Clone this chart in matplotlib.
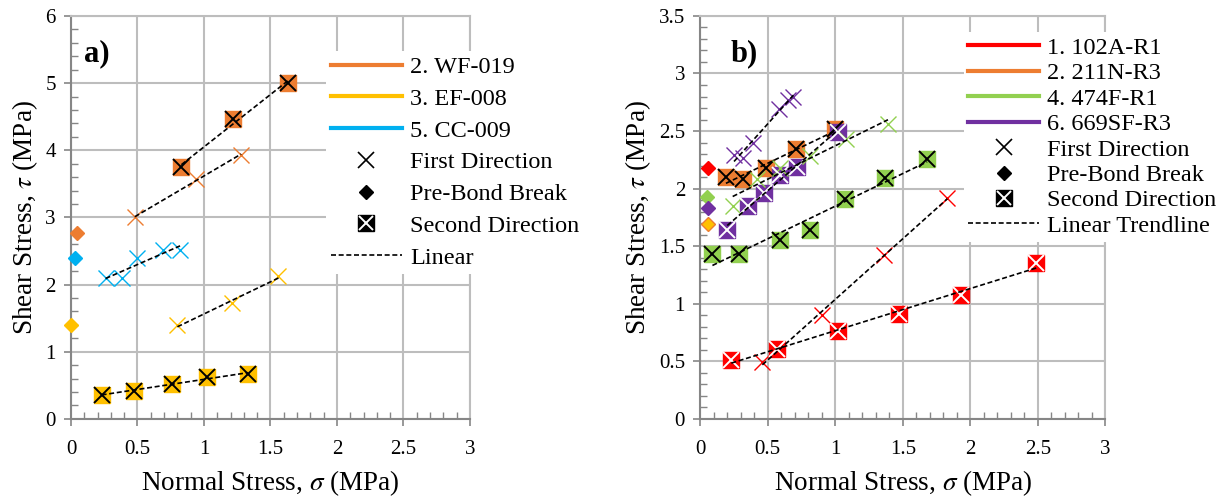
import numpy as np
import matplotlib
matplotlib.use('Agg')
import matplotlib.pyplot as plt
from matplotlib.lines import Line2D
from matplotlib.ticker import MultipleLocator, FormatStrFormatter

plt.rcParams['font.family'] = ['Liberation Serif', 'DejaVu Serif']
plt.rcParams['mathtext.fontset'] = 'stix'

# ---- panel a) data ----
a_wf_pre = (0.045, 2.76)
a_wf_first_x = [0.48, 0.94, 1.28]
a_wf_first_y = [3.00, 3.57, 3.93]
a_wf_second_x = [0.83, 1.22, 1.63]
a_wf_second_y = [3.75, 4.46, 5.00]

a_ef_pre = (0.0, 1.39)
a_ef_first_x = [0.80, 1.21, 1.56]
a_ef_first_y = [1.39, 1.72, 2.12]
a_ef_second_x = [0.23, 0.47, 0.76, 1.02, 1.33]
a_ef_second_y = [0.36, 0.41, 0.52, 0.62, 0.67]

a_cc_pre = (0.03, 2.40)
a_cc_first_x = [0.26, 0.38, 0.50, 0.69, 0.82]
a_cc_first_y = [2.10, 2.10, 2.39, 2.51, 2.52]

# ---- panel b) data ----
b_102_pre = (0.06, 2.18)
b_102_first_x = [0.46, 0.90, 1.36, 1.83]
b_102_first_y = [0.49, 0.90, 1.42, 1.92]
b_102_second_x = [0.23, 0.57, 1.02, 1.47, 1.93, 2.49]
b_102_second_y = [0.51, 0.61, 0.76, 0.91, 1.08, 1.35]

b_211_pre = (0.06, 1.69)
b_211_second_x = [0.19, 0.32, 0.49, 0.71, 1.00]
b_211_second_y = [2.10, 2.08, 2.18, 2.34, 2.52]

b_474_pre = (0.05, 1.93)
b_474_first_x = [0.24, 0.42, 0.59, 0.81, 1.08, 1.39]
b_474_first_y = [1.85, 2.08, 2.18, 2.28, 2.43, 2.56]
b_474_second_x = [0.09, 0.29, 0.59, 0.81, 1.07, 1.37, 1.68]
b_474_second_y = [1.43, 1.43, 1.55, 1.64, 1.91, 2.09, 2.26]

b_669_pre = (0.06, 1.83)
b_669_first_x = [0.25, 0.32, 0.39, 0.58, 0.65, 0.69]
b_669_first_y = [2.29, 2.27, 2.40, 2.69, 2.77, 2.80]
b_669_second_x = [0.20, 0.35, 0.47, 0.59, 0.72, 1.02]
b_669_second_y = [1.64, 1.85, 1.96, 2.12, 2.19, 2.49]

ORANGE = '#ED7D31'
YELLOW = '#FFC000'
BLUE = '#00B0F0'
RED = '#FF0000'
GREEN = '#92D050'
PURPLE = '#7030A0'


def trend(ax, x, y):
    k, b = np.polyfit(x, y, 1)
    xs = np.array([min(x), max(x)])
    ax.plot(xs, k * xs + b, color='k', ls=(0, (3, 1.6)), lw=1.2, zorder=5)


def pre(ax, p, color, edge=None):
    ax.plot([p[0]], [p[1]], ls='', marker='D', ms=7.5, color=color,
            mec=edge if edge else color, zorder=6, clip_on=False)


def first(ax, x, y, color):
    ax.plot(x, y, ls='', marker='x', ms=11, mew=1.0, color=color, zorder=4)
    trend(ax, x, y)


def second(ax, x, y, color, xcol):
    ax.plot(x, y, ls='', marker='s', ms=12, color=color, mec=color, zorder=3)
    ax.plot(x, y, ls='', marker='x', ms=11, mew=1.4, color=xcol, zorder=4)
    trend(ax, x, y)


def style(ax, ymax, ymajor, yminor):
    ax.set_xlim(0, 3)
    ax.set_ylim(0, ymax)
    ax.xaxis.set_major_locator(MultipleLocator(0.5))
    ax.xaxis.set_minor_locator(MultipleLocator(0.1))
    ax.yaxis.set_major_locator(MultipleLocator(ymajor))
    ax.yaxis.set_minor_locator(MultipleLocator(yminor))
    ax.xaxis.set_major_formatter(FormatStrFormatter('%g'))
    ax.yaxis.set_major_formatter(FormatStrFormatter('%g'))
    ax.grid(True, which='major', color='#BDBDBD', lw=1.5)
    ax.set_axisbelow(True)
    for s in ['left', 'bottom']:
        ax.spines[s].set_color('#868686')
        ax.spines[s].set_linewidth(1.5)
    for s in ['top', 'right']:
        ax.spines[s].set_color('#BDBDBD')
        ax.spines[s].set_linewidth(1.5)
    ax.tick_params(which='major', direction='out', length=5, width=1.2,
                   color='#868686', labelsize=15, pad=6)
    ax.tick_params(which='minor', direction='in', length=5, width=1.0,
                   color='#868686')
    ax.tick_params(axis='x', pad=10)
    ax.set_xlabel(r'Normal Stress, $\sigma$ (MPa)', fontsize=19.5, labelpad=7)
    ax.set_ylabel(r'Shear Stress, $\tau$ (MPa)', fontsize=19.5, labelpad=4)


fig = plt.figure(figsize=(12.2, 4.98), dpi=100)
ax1 = fig.add_axes([0.0582, 0.159, 0.327, 0.809])
ax2 = fig.add_axes([0.574, 0.159, 0.332, 0.809])

# panel a
pre(ax1, a_wf_pre, ORANGE)
first(ax1, a_wf_first_x, a_wf_first_y, ORANGE)
second(ax1, a_wf_second_x, a_wf_second_y, ORANGE, 'k')
pre(ax1, a_ef_pre, YELLOW)
first(ax1, a_ef_first_x, a_ef_first_y, YELLOW)
second(ax1, a_ef_second_x, a_ef_second_y, YELLOW, 'k')
pre(ax1, a_cc_pre, BLUE)
first(ax1, a_cc_first_x, a_cc_first_y, BLUE)
style(ax1, 6, 1, 0.2)
ax1.text(0.033, 0.905, 'a)', transform=ax1.transAxes, fontsize=22,
         fontweight='bold', va='center')

# panel b
pre(ax2, b_102_pre, RED)
first(ax2, b_102_first_x, b_102_first_y, RED)
second(ax2, b_102_second_x, b_102_second_y, RED, 'w')
pre(ax2, b_211_pre, YELLOW, ORANGE)
second(ax2, b_211_second_x, b_211_second_y, ORANGE, 'k')
pre(ax2, b_474_pre, GREEN)
first(ax2, b_474_first_x, b_474_first_y, GREEN)
second(ax2, b_474_second_x, b_474_second_y, GREEN, 'k')
pre(ax2, b_669_pre, PURPLE)
first(ax2, b_669_first_x, b_669_first_y, PURPLE)
second(ax2, b_669_second_x, b_669_second_y, PURPLE, 'w')
style(ax2, 3.5, 0.5, 0.1)
ax2.text(0.074, 0.905, 'b)', transform=ax2.transAxes, fontsize=22,
         fontweight='bold', va='center')


def marker_handles():
    h_first = Line2D([], [], ls='', marker='x', ms=11, mew=1.2, color='k')
    h_pre = Line2D([], [], ls='', marker='D', ms=7.5, color='k')
    h_sec = (Line2D([], [], ls='', marker='s', ms=11, color='k'),
             Line2D([], [], ls='', marker='x', ms=10, mew=1.4, color='w'))
    h_lin = Line2D([], [], color='k', ls=(0, (3, 1.6)), lw=1.2)
    return [h_first, h_pre, h_sec, h_lin]


names_a = ['2. WF-019', '3. EF-008', '5. CC-009']
colors_a = [ORANGE, YELLOW, BLUE]
ha = [Line2D([], [], color=c, lw=3) for c in colors_a] + marker_handles()
la = names_a + ['First Direction', 'Pre-Bond Break', 'Second Direction', 'Linear']
leg = ax1.legend(ha, la, loc='upper left', bbox_to_anchor=(0.64, 0.912),
                 fontsize=17.5, frameon=True, framealpha=1, edgecolor='none',
                 fancybox=False, handlelength=2.9, handletextpad=0.35,
                 labelspacing=0.4, borderpad=0.2, borderaxespad=0)
leg.set_zorder(10)

names_b = ['1. 102A-R1', '2. 211N-R3', '4. 474F-R1', '6. 669SF-R3']
colors_b = [RED, ORANGE, GREEN, PURPLE]
hb = [Line2D([], [], color=c, lw=3) for c in colors_b] + marker_handles()
lb = names_b + ['First Direction', 'Pre-Bond Break', 'Second Direction',
                'Linear Trendline']
leg = ax2.legend(hb, lb, loc='upper left', bbox_to_anchor=(0.65, 0.96),
                 fontsize=17.5, frameon=True, framealpha=1, edgecolor='none',
                 fancybox=False, handlelength=2.9, handletextpad=0.35,
                 labelspacing=0.14, borderpad=0.2, borderaxespad=0)
leg.set_zorder(10)

plt.savefig('out.png', dpi=100)
